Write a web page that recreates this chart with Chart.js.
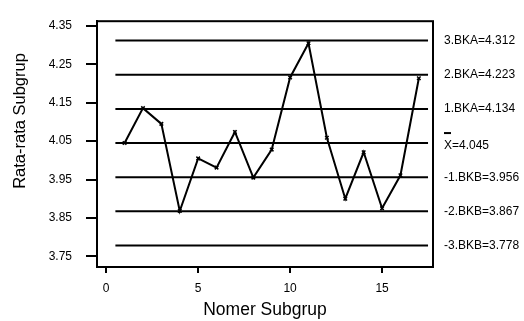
<!DOCTYPE html>
<html>
<head>
<meta charset="utf-8">
<script src="https://cdn.jsdelivr.net/npm/chart.js@4/dist/chart.umd.min.js"></script>
<style>
html,body{margin:0;padding:0;background:#fff;}
#wrap{width:524px;height:321px;position:relative;}
</style>
</head>
<body>
<div id="wrap"><canvas id="c" width="524" height="321"></canvas></div>
<script>
// Data
const subgroups = [1,2,3,4,5,6,7,8,9,10,11,12,13,14,15,16,17];
const means = [4.045,4.136,4.095,3.868,4.005,3.981,4.074,3.955,4.028,4.216,4.305,4.059,3.900,4.021,3.875,3.961,4.214];
const limitValues = [4.312,4.223,4.134,4.045,3.956,3.867,3.778];
const limitLabels = ['3.BKA=4.312','2.BKA=4.223','1.BKA=4.134','X=4.045','-1.BKB=3.956','-2.BKB=3.867','-3.BKB=3.778'];
const yTicks = [3.75,3.85,3.95,4.05,4.15,4.25,4.35];
const xTicks = [0,5,10,15];
const lineStart = 0.5, lineEnd = 17.5;

const FONT = '"Liberation Sans", Arial, sans-serif';

const limitDatasets = limitValues.map(v => ({
  data: [{x: lineStart, y: v}, {x: lineEnd, y: v}],
  borderColor: '#000', borderWidth: 2, pointRadius: 0, fill: false, order: 2
}));

const overlay = {
  id: 'overlay',
  afterDraw(chart) {
    const ctx = chart.ctx, a = chart.chartArea, ys = chart.scales.y;
    ctx.save();
    ctx.strokeStyle = '#000'; ctx.lineWidth = 2;
    ctx.strokeRect(a.left, a.top, a.right - a.left, a.bottom - a.top);
    ctx.fillStyle = '#000';
    ctx.font = '12px ' + FONT;
    ctx.textBaseline = 'middle'; ctx.textAlign = 'left';
    const lx = a.right + 11;
    limitLabels.forEach((t, i) => {
      const y = ys.getPixelForValue(limitValues[i]);
      if (t.startsWith('X=')) {
        ctx.fillText(t, lx, y + 3);
        ctx.fillRect(lx, y - 11, 7, 2);
      } else {
        ctx.fillText(t, lx, y);
      }
    });
    // y axis title
    ctx.translate(20, 121);
    ctx.rotate(-Math.PI / 2);
    ctx.textAlign = 'center';
    ctx.font = '16.5px ' + FONT;
    ctx.fillText('Rata-rata Subgrup', 0, 0);
    ctx.restore();
  }
};

new Chart(document.getElementById('c'), {
  type: 'line',
  data: {
    datasets: [
      {
        data: subgroups.map((s, i) => ({x: s, y: means[i]})),
        borderColor: '#000', borderWidth: 2,
        pointStyle: 'crossRot', pointRadius: 2.5, pointBorderColor: '#000', pointBorderWidth: 1.5,
        fill: false, tension: 0, order: 1
      },
      ...limitDatasets
    ]
  },
  options: {
    responsive: false, animation: false, devicePixelRatio: 1,
    layout: {padding: {left: 0, right: 91, top: 12, bottom: 0}},
    plugins: {legend: {display: false}, tooltip: {enabled: false}},
    scales: {
      x: {
        type: 'linear', min: -0.5, max: 17.77,
        afterBuildTicks: s => { s.ticks = xTicks.map(v => ({value: v})); },
        afterFit: s => { s.height = 54; },
        grid: {drawOnChartArea: false, drawTicks: true, tickLength: 6, color: '#000', lineWidth: 2},
        border: {display: true, color: '#000', width: 2},
        ticks: {color: '#000', font: {family: FONT, size: 12}, padding: 8, maxRotation: 0},
        title: {display: true, text: 'Nomer Subgrup', color: '#000', font: {family: FONT, size: 17.5}, padding: {top: 0, bottom: 0}}
      },
      y: {
        type: 'linear', min: 3.722, max: 4.3626,
        afterBuildTicks: s => { s.ticks = yTicks.map(v => ({value: v})); },
        afterFit: s => { s.width = 97; },
        grid: {drawOnChartArea: false, drawTicks: true, tickLength: 11, color: '#000', lineWidth: 2},
        border: {display: true, color: '#000', width: 2},
        ticks: {color: '#000', font: {family: FONT, size: 12}, padding: 14, callback: v => v.toFixed(2)}
      }
    }
  },
  plugins: [overlay]
});
</script>
</body>
</html>
